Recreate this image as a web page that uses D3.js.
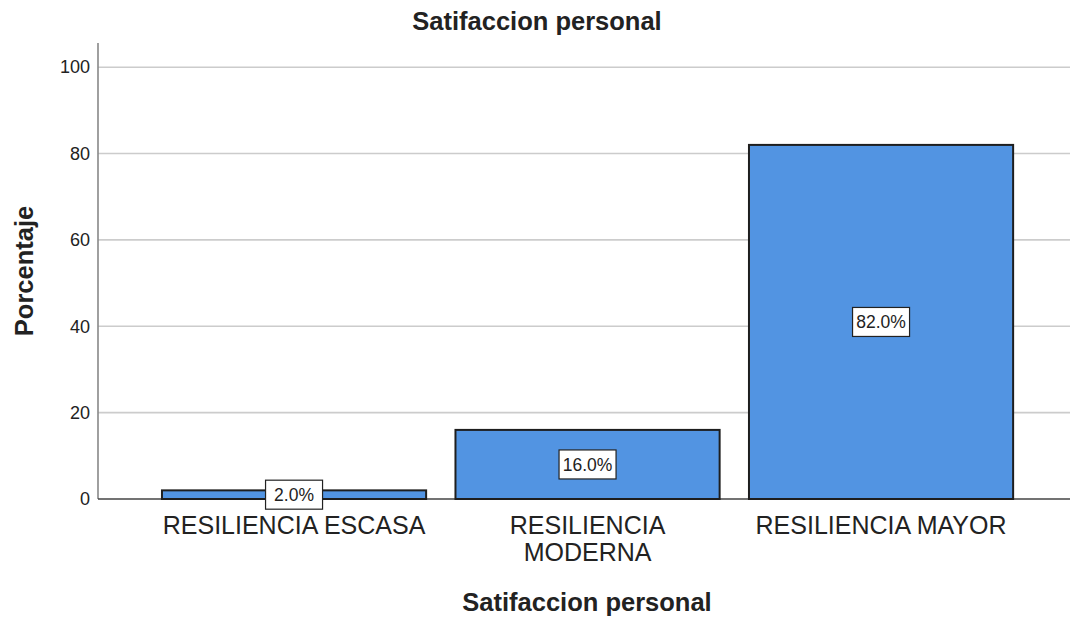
<!DOCTYPE html>
<html><head><meta charset="utf-8">
<script src="https://cdn.jsdelivr.net/npm/d3@7"></script>
<style>body{margin:0;background:#fff}svg{display:block}text{font-family:"Liberation Sans",Arial,sans-serif;fill:#222}</style>
</head><body><svg id="c" width="1071" height="617"></svg>
<script>
const categories = [["RESILIENCIA ESCASA"], ["RESILIENCIA", "MODERNA"], ["RESILIENCIA MAYOR"]];
const values = [2.0, 16.0, 82.0];
const labels = ["2.0%", "16.0%", "82.0%"];
const yTicks = [0, 20, 40, 60, 80, 100];
const title = "Satifaccion personal";
const xTitle = "Satifaccion personal";
const yTitle = "Porcentaje";

(function () {
const svg = d3.select("#c");
const pLeft = 98, pRight = 1070, pTop = 43, pBottom = 499;
const keys = categories.map(c => c.join(" "));
const x = d3.scaleBand().domain(keys).range([147.3, 1027.8]).paddingInner(0.1).paddingOuter(0.05);
const y = d3.scaleLinear().domain([0, 105.6]).range([pBottom, pTop]);

// gridlines
svg.append("g").selectAll("line").data(yTicks.filter(d => d > 0)).join("line")
  .attr("x1", pLeft).attr("x2", pRight).attr("y1", d => y(d)).attr("y2", d => y(d))
  .attr("stroke", "#cccccc").attr("stroke-width", 1.6);

// y axis
const ya = svg.append("g").attr("transform", `translate(${pLeft},0)`)
  .call(d3.axisLeft(y).tickValues(yTicks).tickSize(0).tickPadding(8));
ya.select(".domain").remove();
ya.selectAll("text").attr("font-size", 18).attr("fill", "#222").style("font-family", '"Liberation Sans",Arial,sans-serif');
svg.append("line").attr("x1", pLeft).attr("x2", pLeft).attr("y1", pTop).attr("y2", pBottom)
  .attr("stroke", "#888").attr("stroke-width", 1.6);
svg.append("line").attr("x1", pLeft).attr("x2", pRight).attr("y1", pBottom).attr("y2", pBottom)
  .attr("stroke", "#444").attr("stroke-width", 1.4);

// bars
svg.append("g").selectAll("rect").data(values).join("rect")
  .attr("x", (d, i) => x(keys[i])).attr("width", x.bandwidth())
  .attr("y", d => y(d)).attr("height", d => pBottom - y(d))
  .attr("fill", "#5294e2").attr("stroke", "#1e1e1e").attr("stroke-width", 2);

// value labels
const lg = svg.append("g").selectAll("g").data(values).join("g")
  .attr("transform", (d, i) => `translate(${x(keys[i]) + x.bandwidth() / 2},${y(d / 2)})`);
lg.append("rect").attr("x", -28.5).attr("y", -14.5).attr("width", 57).attr("height", 29)
  .attr("fill", "#fff").attr("stroke", "#222").attr("stroke-width", 1.2);
lg.append("text").attr("text-anchor", "middle").attr("dy", "0.36em").attr("font-size", 17.5)
  .text((d, i) => labels[i]);

// category labels
const cg = svg.append("g").selectAll("text").data(categories).join("text")
  .attr("text-anchor", "middle").attr("font-size", 25)
  .attr("x", (d, i) => x(keys[i]) + x.bandwidth() / 2).attr("y", 534);
cg.selectAll("tspan").data(d => d).join("tspan")
  .attr("x", function () { return this.parentNode.getAttribute("x"); })
  .attr("dy", (d, j) => j === 0 ? 0 : 27).text(d => d);

// titles
svg.append("text").attr("x", 537).attr("y", 30).attr("text-anchor", "middle")
  .attr("font-size", 25.5).attr("font-weight", "bold").text(title);
svg.append("text").attr("x", 587).attr("y", 611).attr("text-anchor", "middle")
  .attr("font-size", 25.5).attr("font-weight", "bold").text(xTitle);
svg.append("text").attr("transform", "translate(33,271) rotate(-90)").attr("text-anchor", "middle")
  .attr("font-size", 25.5).attr("font-weight", "bold").text(yTitle);
})();
</script></body></html>
